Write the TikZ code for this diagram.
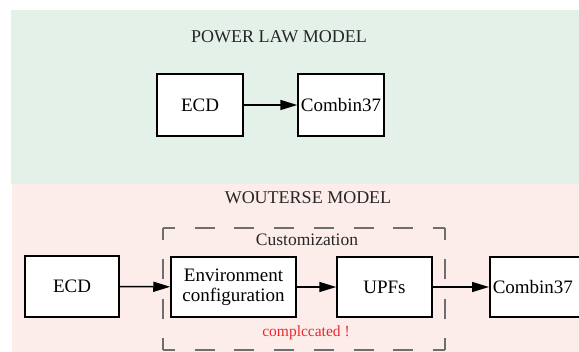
\documentclass[tikz,border=0pt]{standalone}
\usepackage{fontspec}
\setmainfont{Liberation Serif}
\usetikzlibrary{arrows.meta}
\definecolor{bggreen}{RGB}{227,241,232}
\definecolor{bgpink}{RGB}{252,236,234}
\definecolor{dashgray}{RGB}{110,110,110}
\definecolor{warnred}{RGB}{232,40,45}
\tikzset{
  box/.style={draw=black, line width=1.5pt, fill=white, inner sep=0pt, font=\fontsize{19}{20}\selectfont, align=center},
  arr/.style={draw=black, line width=1.5pt, -{Triangle[length=17pt,width=10pt]}},
  titletext/.style={font=\fontsize{18}{20}\selectfont, text=black!85},
  hsidedash/.style={draw=dashgray, line width=1.3pt, dash pattern=on 12pt off 19.71pt on 20pt off 19.71pt on 20pt off 19.71pt on 20pt off 19.71pt on 20pt off 19.71pt on 20pt off 19.71pt on 20pt off 19.71pt on 12pt off 100pt},
  vsidedash/.style={draw=dashgray, line width=1.3pt, dash pattern=on 12pt off 19.33pt on 20pt off 19.33pt on 20pt off 19.33pt on 12pt off 100pt}
}
\begin{document}
\begin{tikzpicture}[x=1pt,y=-1pt]
\useasboundingbox (0,0) rectangle (579,352);
\fill[bggreen] (11,10) rectangle (585,184);
\fill[bgpink] (12,184) rectangle (585,360);
% top section
\node[titletext] (t1) at (279,37) {POWER LAW MODEL};
\node[box, minimum width=86pt, minimum height=62pt] (ecdA) at (200,105) {ECD};
\node[box, minimum width=86pt, minimum height=62pt] (combA) at (341,105) {Combin37};
\draw[arr] (ecdA) -- (combA);
% bottom section
\node[titletext] (t2) at (308,198) {WOUTERSE MODEL};
\coordinate (d1) at (163,228);
\coordinate (d2) at (445,228);
\coordinate (d3) at (445,350);
\coordinate (d4) at (163,350);
\draw[hsidedash] (d1) -- (d2);
\draw[hsidedash] (d4) -- (d3);
\draw[vsidedash] (d1) -- (d4);
\draw[vsidedash] (d2) -- (d3);
\node[font=\fontsize{17.5}{20}\selectfont, text=black!85] (cust) at (307,240) {Customization};
\node[box, minimum width=94pt, minimum height=61pt] (ecdB) at (72,286.5) {ECD};
\node[box, minimum width=125pt, minimum height=60pt] (env) at (233.5,287) {Environment\\configuration};
\node[box, minimum width=95pt, minimum height=60pt] (upf) at (384.5,287) {UPFs};
\node[box, anchor=west, minimum height=60pt, text width=100pt, inner xsep=3pt, align=left] (combB) at (489,287) {Combin37};
\node[font=\fontsize{15.5}{18}\selectfont, text=warnred] (warn) at (306,333) {complccated !};
\draw[arr] (ecdB) -- (env);
\draw[arr] (env) -- (upf);
\draw[arr] (upf) -- (combB);
\end{tikzpicture}
\end{document}
